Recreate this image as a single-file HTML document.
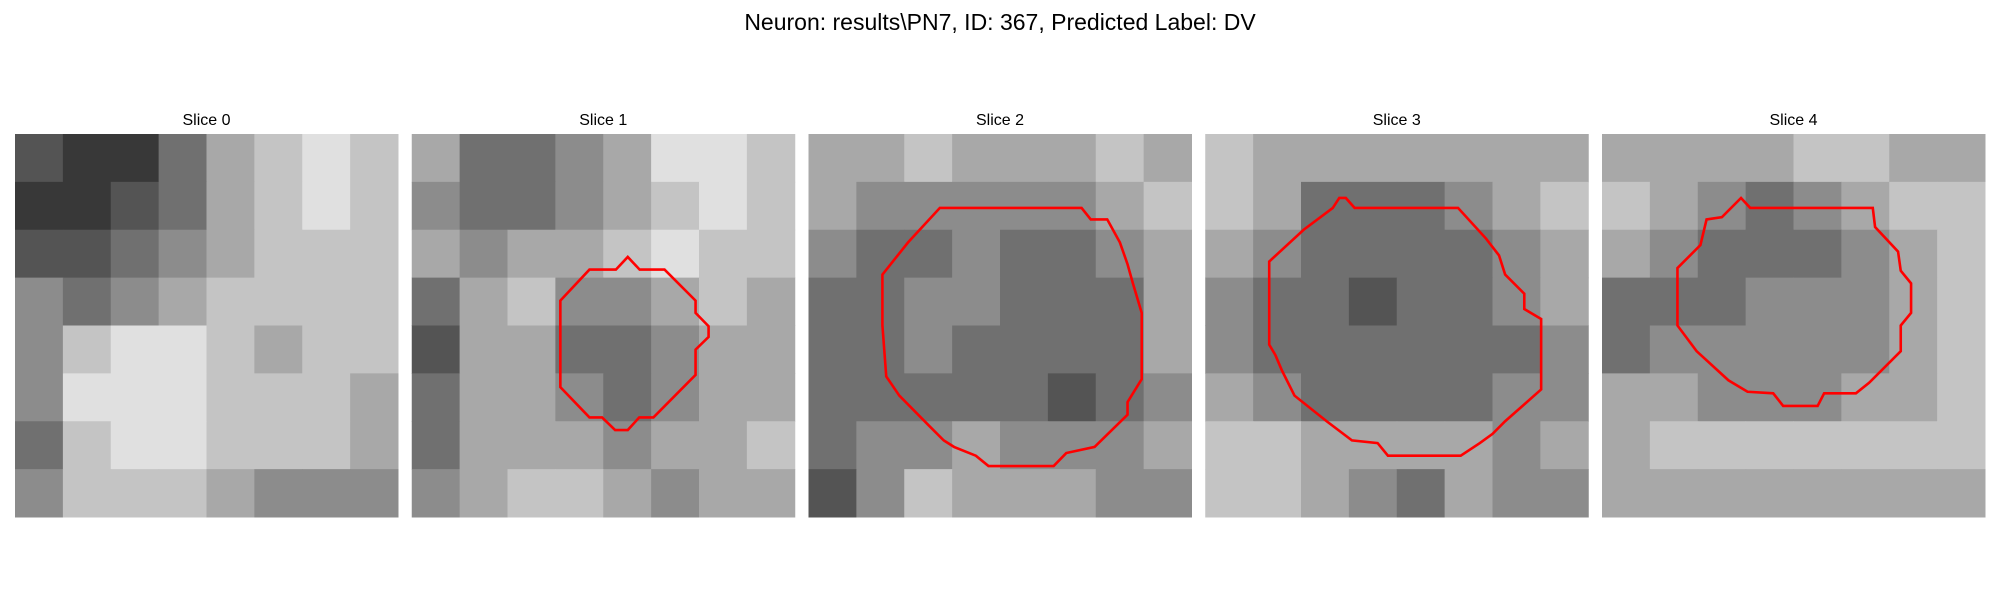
<!DOCTYPE html>
<html><head><meta charset="utf-8"><style>
html,body{margin:0;padding:0;background:#fff;width:2000px;height:600px;overflow:hidden}
svg{font-family:"Liberation Sans","DejaVu Sans",sans-serif}
</style></head><body>
<svg id="fig" width="2000" height="600" viewBox="0 0 2000 600" xmlns="http://www.w3.org/2000/svg">
<text x="1000" y="30" text-anchor="middle" font-size="23" fill="#000">Neuron: results\PN7, ID: 367, Predicted Label: DV</text>
</svg>
<script>
const titles=["Slice 0","Slice 1","Slice 2","Slice 3","Slice 4"];
const grid0=[[3,2,2,4,6,7,8,7],[2,2,3,4,6,7,8,7],[3,3,4,5,6,7,7,7],[5,4,5,6,7,7,7,7],[5,7,8,8,7,6,7,7],[5,8,8,8,7,7,7,6],[4,7,8,8,7,7,7,6],[5,7,7,7,6,5,5,5]];
const grid1=[[6,4,4,5,6,8,8,7],[5,4,4,5,6,7,8,7],[6,5,6,6,7,8,7,7],[4,6,7,5,5,6,7,6],[3,6,6,4,4,5,6,6],[4,6,6,5,4,5,6,6],[4,6,6,6,5,6,6,7],[5,6,7,7,6,5,6,6]];
const grid2=[[6,6,7,6,6,6,7,6],[6,5,5,5,5,5,6,7],[5,4,4,5,4,4,5,6],[4,4,5,5,4,4,4,6],[4,4,5,4,4,4,4,6],[4,4,4,4,4,3,4,5],[4,5,5,6,5,5,5,6],[3,5,7,6,6,6,5,5]];
const grid3=[[7,6,6,6,6,6,6,6],[7,6,4,4,4,5,6,7],[6,5,4,4,4,4,5,6],[5,4,4,3,4,4,5,6],[5,4,4,4,4,4,4,5],[6,5,4,4,4,4,5,5],[7,7,6,6,6,6,5,6],[7,7,6,5,4,6,5,5]];
const grid4=[[6,6,6,6,7,7,6,6],[7,6,5,4,5,6,7,7],[6,5,4,4,4,5,6,7],[4,4,4,5,5,5,6,7],[4,5,5,5,5,5,6,7],[6,6,5,5,5,6,6,7],[6,7,7,7,7,7,7,7],[6,6,6,6,6,6,6,6]];
const grids=[grid0,grid1,grid2,grid3,grid4];
const contour1=[[46.4,35.4],[53.3,35.4],[56.4,32.1],[59.5,35.4],[66,35.4],[74.1,43.5],[74.1,46.7],[77.5,50.2],[77.5,53],[74.1,56.3],[74.1,62.9],[63.1,74],[59.4,74],[56.4,77.3],[53.1,77.3],[49.7,74],[46.4,74],[38.8,66.1],[38.8,43.5]];
const contour2=[[34.3,19.3],[71.3,19.3],[73.7,22.3],[78,22.3],[81.3,28.3],[83.3,34],[84.7,39],[87,46.7],[87,64],[83.3,70],[83.3,73.3],[74.7,81.7],[67.3,83.3],[64,86.7],[47,86.7],[43.7,84],[38,81.7],[35.3,80],[31.3,76],[23.7,68.3],[20.3,63.3],[19.3,50],[19.3,36.7],[26,28.3]];
const contour3=[[33.3,19.3],[35,16.7],[36.7,16.7],[39,19.3],[66,19.3],[73.3,27.3],[76.7,31.7],[78.3,36.7],[83.3,41.7],[83.3,45.7],[87.7,48.3],[87.7,66.7],[78.3,75],[75,78.3],[71.7,80.7],[66.7,84],[47.7,84],[45,80.7],[38.3,80],[31.7,75],[23.3,68.3],[20,61.7],[18.3,57.7],[16.7,55],[16.7,33.3],[25.7,25]];
const contour4=[[27.3,22.3],[31.3,21.7],[36.3,16.7],[38.7,19.3],[70.7,19.3],[71.3,24.3],[77.3,30.7],[78,35.7],[80.7,39],[80.7,46.7],[78,50],[78,56.7],[69.7,65],[66.3,67.7],[58,67.7],[56.3,71],[47.3,71],[44.7,67.7],[38,67.3],[33,64.3],[24.7,56.7],[19.7,50],[19.7,35],[25.7,29]];
const contours=[null,contour1,contour2,contour3,contour4];

const NS="http://www.w3.org/2000/svg";
const svg=document.getElementById('fig');
const X0=15,STEP=396.75,SIZE=383,Y0=134;
function px(i,f){return X0+i*STEP+f/100*SIZE;}
function py(f){return Y0+f/100*SIZE;}
grids.forEach((g,i)=>{
  const grp=document.createElementNS(NS,'g');
  
  
  svg.appendChild(grp);
  const t=document.createElementNS(NS,'text');
  
  
  t.setAttribute('x',X0+i*STEP+SIZE/2);t.setAttribute('y',125);
  t.setAttribute('text-anchor','middle');t.setAttribute('font-size','16');
  t.textContent=titles[i];grp.appendChild(t);
  const n=g.length,c=SIZE/n;
  g.forEach((row,r)=>row.forEach((v,k)=>{
    const rc=document.createElementNS(NS,'rect');
    
    
    rc.setAttribute('x',X0+i*STEP+k*c);rc.setAttribute('y',Y0+r*c);
    rc.setAttribute('width',c+0.5);rc.setAttribute('height',c+0.5);
    const gv=Math.round(v*28);rc.setAttribute('fill',`rgb(${gv},${gv},${gv})`);
    grp.appendChild(rc);
  }));
  if(contours[i]){
    const p=document.createElementNS(NS,'polygon');
    
    
    p.setAttribute('points',contours[i].map(q=>px(i,q[0])+','+py(q[1])).join(' '));
    p.setAttribute('fill','none');p.setAttribute('stroke','#ff0000');p.setAttribute('stroke-width','2.6');
    grp.appendChild(p);
  }
});
</script>
</body></html>
